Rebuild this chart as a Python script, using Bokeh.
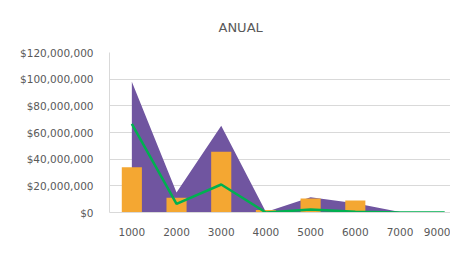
from bokeh.plotting import figure
from bokeh.models import (ColumnDataSource, NumeralTickFormatter, FixedTicker, Range1d,
                          Legend, LegendItem, Title)
from bokeh.embed import file_html
from bokeh.resources import INLINE

categories = ["1000", "2000", "3000", "4000", "5000", "6000", "7000", "9000"]
modificado = [98e6, 15e6, 65e6, 0.3e6, 11.5e6, 7e6, 0.3e6, 0]
disponible = [34e6, 11e6, 45.5e6, 1.8e6, 10.5e6, 9e6, 0, 0]
ejercido = [66.5e6, 6.5e6, 21e6, 0, 2.2e6, 0.5e6, 0, 0]
y_ticks = [0, 20e6, 40e6, 60e6, 80e6, 100e6, 120e6]

idx = list(range(len(categories)))
src = ColumnDataSource(dict(x=idx, cat=categories, mod=modificado, disp=disponible,
                            eje=ejercido, zero=[0] * len(idx)))

TXT = "#595959"
FONT = "DejaVu Sans"

p = figure(width=450, height=268, frame_width=341, frame_height=160,
           output_backend="svg", toolbar_location=None,
           x_range=Range1d(-0.5, 7.13), y_range=Range1d(0, 120e6),
           min_border_left=109, min_border_right=0, min_border_top=52, min_border_bottom=56)
p.title = Title(text="ANUAL", align="left", offset=109, standoff=35, text_font=FONT,
                text_font_size="13px", text_font_style="normal", text_color=TXT)

r_area = p.varea(x="x", y1="zero", y2="mod", source=src, fill_color="#7055A0")
r_bar = p.vbar(x="x", top="disp", width=0.45, source=src, fill_color="#F4A732",
               line_color=None)
r_line = p.line(x="x", y="eje", source=src, line_color="#00B050", line_width=2.5)

p.outline_line_color = None
p.xgrid.grid_line_color = None
p.ygrid.grid_line_color = "#D9D9D9"
p.ygrid.ticker = FixedTicker(ticks=y_ticks)

p.yaxis.ticker = FixedTicker(ticks=y_ticks)
p.yaxis.formatter = NumeralTickFormatter(format="$0,0")
p.yaxis.axis_line_color = "#D9D9D9"
p.yaxis.major_tick_line_color = None
p.yaxis.minor_tick_line_color = None
p.yaxis.major_label_standoff = 10
p.yaxis.major_label_text_font = FONT
p.yaxis.major_label_text_font_size = "10.5px"
p.yaxis.major_label_text_color = TXT

p.xaxis.ticker = FixedTicker(ticks=idx)
p.xaxis.major_label_overrides = {i: c for i, c in zip(idx, categories)}
p.xaxis.axis_line_color = "#D9D9D9"
p.xaxis.major_tick_line_color = None
p.xaxis.minor_tick_line_color = None
p.xaxis.major_label_standoff = 9
p.xaxis.major_label_text_font = FONT
p.xaxis.major_label_text_font_size = "10.5px"
p.xaxis.major_label_text_color = TXT

legend = Legend(items=[LegendItem(label="Modificado", renderers=[r_area]),
                       LegendItem(label="Disponible", renderers=[r_bar]),
                       LegendItem(label="Ejercido", renderers=[r_line])],
                orientation="horizontal", location=(-4, 6), padding=0, margin=0,
                spacing=14, glyph_width=24, glyph_height=8, label_standoff=3,
                label_height=12, label_text_font=FONT, label_text_font_size="10.5px",
                label_text_color=TXT, background_fill_alpha=0, border_line_color=None)
p.add_layout(legend, "below")

open("out.html", "w").write(file_html(p, INLINE))
